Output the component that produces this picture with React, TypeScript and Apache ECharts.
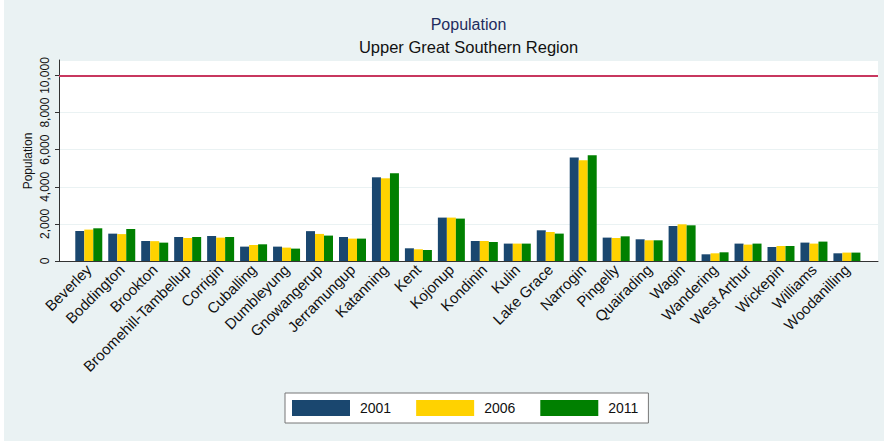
import React, { useEffect, useRef } from "react";
import * as echarts from "echarts";

const categories = [
  "Beverley", "Boddington", "Brookton", "Broomehill-Tambellup", "Corrigin", "Cuballing",
  "Dumbleyung", "Gnowangerup", "Jerramungup", "Katanning", "Kent", "Kojonup",
  "Kondinin", "Kulin", "Lake Grace", "Narrogin", "Pingelly", "Quairading",
  "Wagin", "Wandering", "West Arthur", "Wickepin", "Williams", "Woodanilling",
];
const pop2001 = [1617, 1475, 1078, 1294, 1348, 775, 775, 1610, 1294, 4512, 685, 2340, 1078, 938, 1655, 5574, 1261, 1170, 1887, 361, 938, 755, 992, 415];
const pop2006 = [1693, 1450, 1070, 1240, 1260, 862, 722, 1460, 1207, 4458, 631, 2340, 1078, 938, 1563, 5429, 1240, 1116, 1978, 415, 884, 809, 938, 453];
const pop2011 = [1763, 1725, 990, 1294, 1294, 900, 668, 1370, 1207, 4728, 593, 2286, 1024, 938, 1477, 5698, 1330, 1116, 1924, 469, 938, 809, 1046, 453];
const seriesNames = ["2001", "2006", "2011"];
const titleText = "Population";
const subtitleText = "Upper Great Southern Region";
const yAxisTitle = "Population";
const referenceLine = 10000;
const yMax = 10836;

export default function App() {
  const ref = useRef<HTMLDivElement>(null);
  useEffect(() => {
    document.body.style.margin = "0";
    document.body.style.background = "#ffffff";
    const chart = echarts.init(ref.current!, null, { renderer: "svg" });
    const colors = ["#1A476F", "#FFD200", "#008000"];
    const data = [pop2001, pop2006, pop2011];
    const font = "'Liberation Sans', Arial, Helvetica, sans-serif";
    chart.setOption({
      animation: false,
      textStyle: { fontFamily: font },
      graphic: [
        { type: "rect", z: -10, silent: true, shape: { x: 4, y: 0, width: 880, height: 441 }, style: { fill: "#EAF2F3" } },
        {
          type: "text", x: 468.5, y: 24, silent: true,
          style: { text: titleText, fontSize: 16, fill: "#1e2c5e", fontFamily: font, textAlign: "center", textVerticalAlign: "middle" },
        },
        {
          type: "text", x: 468.5, y: 47, silent: true,
          style: { text: subtitleText, fontSize: 16.5, fill: "#111", fontFamily: font, textAlign: "center", textVerticalAlign: "middle" },
        },
        {
          type: "text", x: 28, y: 161, rotation: Math.PI / 2, silent: true,
          style: { text: yAxisTitle, fontSize: 12, fill: "#111", fontFamily: font, textAlign: "center", textVerticalAlign: "middle" },
        },
      ],
      legend: {
        data: seriesNames,
        left: 285,
        top: 393,
        itemWidth: 58,
        itemHeight: 16,
        itemGap: 25,
        padding: [7, 10, 7, 7],
        backgroundColor: "#fff",
        borderColor: "#777",
        borderWidth: 1,
        borderRadius: 0,
        icon: "rect",
        textStyle: { fontSize: 14, color: "#111", padding: [0, 0, 0, 5], fontFamily: font },
      },
      grid: [
        { left: 59, right: 8, top: 60, bottom: 180, show: true, backgroundColor: "#fff", borderWidth: 0 },
        { left: 72.3, right: 22.6, top: 60, bottom: 180 },
      ],
      xAxis: [
        {
          type: "value", gridIndex: 0, min: 0, max: 1,
          axisLine: { show: true, lineStyle: { color: "#333", width: 1 } },
          axisTick: { show: false }, axisLabel: { show: false }, splitLine: { show: false },
        },
        {
          type: "category", gridIndex: 1, data: categories,
          axisLine: { show: false }, axisTick: { show: false },
          axisLabel: { rotate: 45, fontSize: 15, margin: 6, color: "#111", interval: 0, fontFamily: font },
        },
      ],
      yAxis: [
        {
          type: "value", gridIndex: 0, min: 0, max: yMax, interval: 2000,
          axisLine: { show: true, lineStyle: { color: "#333", width: 1 } },
          axisTick: { show: true, length: 4, lineStyle: { color: "#333" } },
          axisLabel: {
            rotate: 90, fontSize: 12, margin: 8, color: "#111", fontFamily: font,
            formatter: (v: number) => v.toLocaleString("en-US"),
          },
          splitLine: { show: true, lineStyle: { color: "#EAF2F3", width: 1 } },
        },
        { type: "value", gridIndex: 1, min: 0, max: yMax, show: false, splitLine: { show: false } },
      ],
      series: [
        {
          type: "line", xAxisIndex: 0, yAxisIndex: 0, data: [], silent: true,
          markLine: {
            silent: true, symbol: "none", label: { show: false },
            lineStyle: { color: "#C8375F", width: 2, type: "solid" },
            data: [{ yAxis: referenceLine }],
          },
        },
        ...seriesNames.map((name, i) => ({
          type: "bar", name, xAxisIndex: 1, yAxisIndex: 1, data: data[i],
          barWidth: 9, barGap: "0%",
          itemStyle: { color: colors[i] },
        })),
      ],
    });
    return () => chart.dispose();
  }, []);
  return <div ref={ref} style={{ width: 886, height: 441 }} />;
}
